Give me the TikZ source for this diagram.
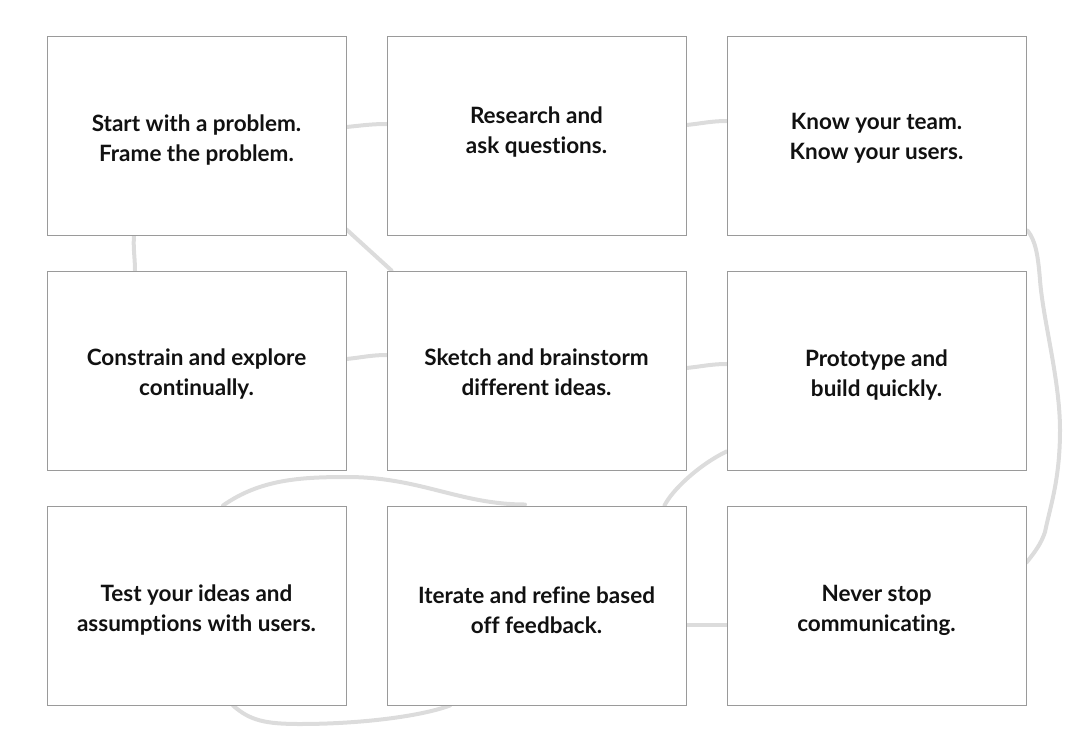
\documentclass[tikz,border=0pt]{standalone}
\usepackage{fontspec}
\setmainfont{Lato}[Ligatures={NoCommon,NoDiscretionary}]
\usetikzlibrary{calc,backgrounds}
\definecolor{linkgray}{HTML}{DCDCDC}
\definecolor{boxgray}{HTML}{9A9A9A}
\definecolor{txt}{HTML}{111111}
\tikzset{
  card/.style={draw=boxgray, line width=1pt, fill=white, minimum width=299pt, minimum height=199pt, inner sep=0pt},
  cardtext/.style={align=center, text=txt, font=\fontsize{22.5}{30}\selectfont\bfseries, inner sep=0pt},
  link/.style={draw=linkgray, line width=4pt, line cap=round}
}
\begin{document}
\begin{tikzpicture}[x=1pt,y=-1pt]
\useasboundingbox (0,0) rectangle (1074,742);
% boxes
\node[card, label={[cardtext,yshift=-4.5pt]center:Start with a problem.\\Frame the problem.}] (b1) at (196.5,135.5) {};
\node[card, label={[cardtext,yshift=3.5pt]center:Research and\\ask questions.}] (b2) at (536.5,135.5) {};
\node[card, label={[cardtext,yshift=-3pt]center:Know your team.\\Know your users.}] (b3) at (876.5,135.5) {};
\node[card, label={[cardtext,yshift=-4pt]center:Constrain and explore\\continually.}] (b4) at (196.5,370.5) {};
\node[card, label={[cardtext,yshift=-2pt]center:Sketch and brainstorm\\different ideas.}] (b5) at (536.5,370.5) {};
\node[card, label={[cardtext,yshift=-5pt]center:Prototype and\\build quickly.}] (b6) at (876.5,370.5) {};
\node[card, label={[cardtext,yshift=-5pt]center:Test your ideas and\\assumptions with users.}] (b7) at (196.5,605.5) {};
\node[card, label={[cardtext,yshift=-5pt]center:Iterate and refine based\\off feedback.}] (b8) at (536.5,605.5) {};
\node[card, label={[cardtext,yshift=-5pt]center:Never stop\\communicating.}] (b9) at (876.5,605.5) {};
\begin{scope}[on background layer]
% 1 -> 2
\draw[link] ($(b1.east)+(0,-8.5)$) .. controls +(15,-1.5) and +(-15,0) .. ($(b2.west)+(0,-11.5)$);
% 2 -> 3
\draw[link] ($(b2.east)+(0,-10.5)$) .. controls +(15,-1.5) and +(-15,0) .. ($(b3.west)+(0,-14.5)$);
% 1 -> 5 diagonal
\draw[link] ($(b1.south east)+(0,-6)$) -- ($(b5.north west)+(5,0)$);
% 1 -> 4 vertical
\draw[link] ($(b1.south)+(-62.5,0)$) .. controls +(-1,12) and +(0,-12) .. ($(b4.north)+(-61.5,0)$);
% 4 -> 5
\draw[link] ($(b4.east)+(0,-11.5)$) .. controls +(15,-1.5) and +(-15,0) .. ($(b5.west)+(0,-15.5)$);
% 5 -> 6
\draw[link] ($(b5.east)+(0,-2.5)$) .. controls +(15,-1.5) and +(-15,0) .. ($(b6.west)+(0,-6.5)$);
% 6 -> 8
\draw[link] ($(b6.south west)+(0,-19)$) .. controls +(-27,13) and +(8,-16) .. ($(b8.north east)+(-22,0)$);
% 7 -> 8 top arc
\draw[link] ($(b7.north)+(26.5,0)$) .. controls +(37,-26) and +(-47,0) .. (347,477)
  .. controls +(73,0) and +(-65,0) .. ($(b8.north)+(-11.5,-1)$);
% 3 -> 9 right side
\draw[link] ($(b3.south east)+(1,-5)$) .. controls +(8,10) and +(-2,-25) .. (1040,280)
  .. controls +(3,40) and +(0,-50) .. (1060,430)
  .. controls +(0,50) and +(5,-25) .. (1045,532)
  .. controls +(-4,12) and +(8,-10) .. ($(b9.north east)+(0,57)$);
% 8 -> 9
\draw[link] ($(b8.east)+(0,19.5)$) -- ($(b9.west)+(0,19.5)$);
% 7 -> 8 bottom arc
\draw[link] ($(b7.south)+(36.5,0)$) .. controls +(17,15) and +(-35,0) .. (300,724)
  .. controls +(60,0) and +(-30,11) .. ($(b8.south)+(-86.5,0)$);
\end{scope}
\end{tikzpicture}
\end{document}
